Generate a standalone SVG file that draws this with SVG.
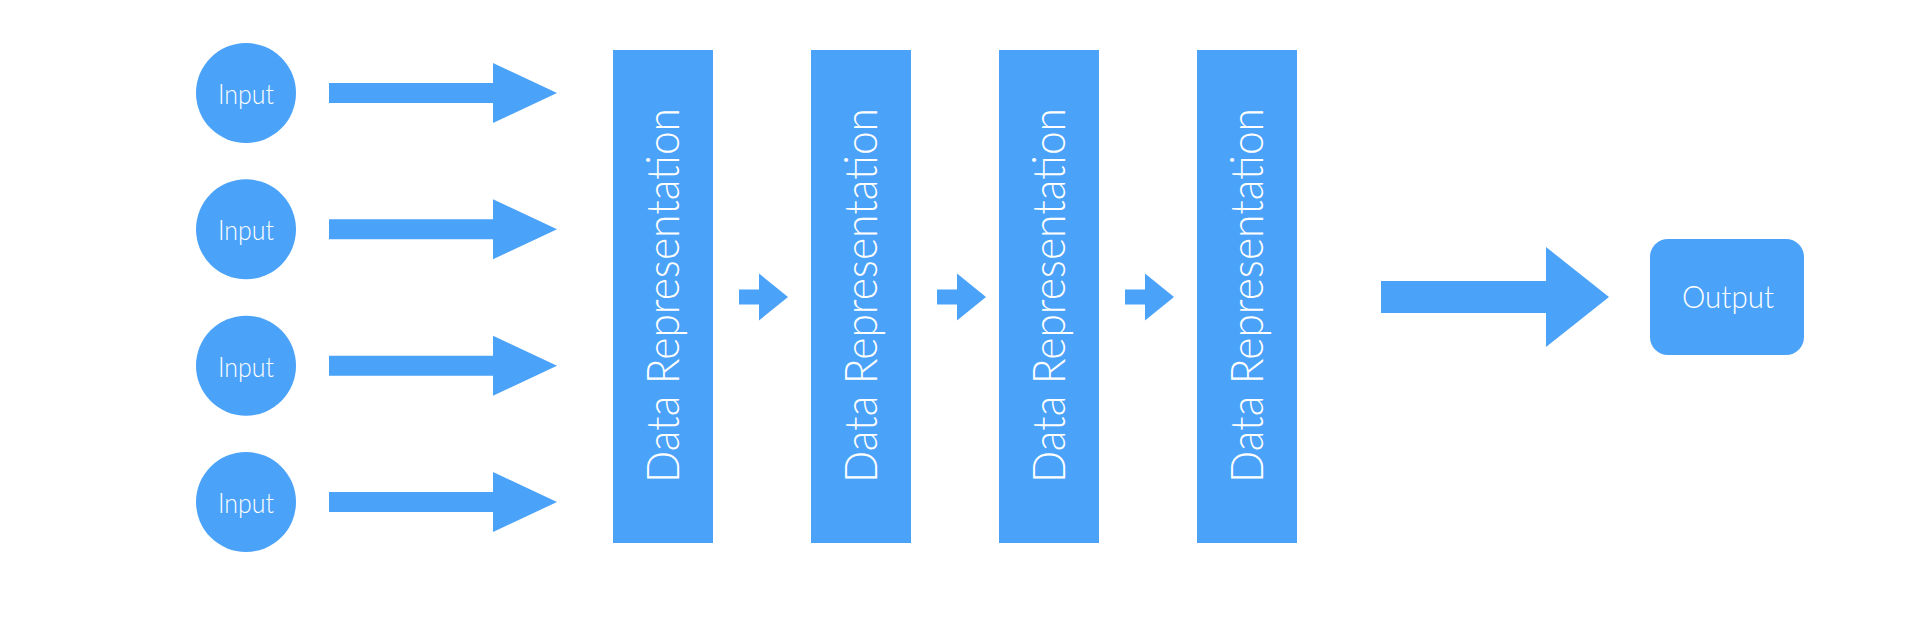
<svg xmlns="http://www.w3.org/2000/svg" width="1915" height="640" viewBox="0 0 1915 640">
<style>
.n{fill:#4aa2f9}
.t{fill:#ffffff;font-family:Lato,"Open Sans","Liberation Sans",sans-serif;font-weight:300}
.in{font-size:27px;text-anchor:middle}
.dr{font-size:45px;text-anchor:middle}
.out{font-size:31px;text-anchor:middle}
</style>
<rect width="1915" height="640" fill="#ffffff"/>
<g id="input1"><circle class="n" cx="246" cy="93" r="50"/><text class="t in" x="246" y="104" textLength="56" lengthAdjust="spacingAndGlyphs">Input</text></g>
<g id="input2"><circle class="n" cx="246" cy="229.3" r="50"/><text class="t in" x="246" y="240.3" textLength="56" lengthAdjust="spacingAndGlyphs">Input</text></g>
<g id="input3"><circle class="n" cx="246" cy="365.7" r="50"/><text class="t in" x="246" y="376.7" textLength="56" lengthAdjust="spacingAndGlyphs">Input</text></g>
<g id="input4"><circle class="n" cx="246" cy="502" r="50"/><text class="t in" x="246" y="513" textLength="56" lengthAdjust="spacingAndGlyphs">Input</text></g>
<g id="rep1"><rect class="n" x="613" y="50" width="100" height="493"/><text class="t dr" transform="translate(678.5 295.5) rotate(-90)" textLength="375" lengthAdjust="spacingAndGlyphs">Data Representation</text></g>
<g id="rep2"><rect class="n" x="811" y="50" width="100" height="493"/><text class="t dr" transform="translate(876.5 295.5) rotate(-90)" textLength="375" lengthAdjust="spacingAndGlyphs">Data Representation</text></g>
<g id="rep3"><rect class="n" x="999" y="50" width="100" height="493"/><text class="t dr" transform="translate(1064.5 295.5) rotate(-90)" textLength="375" lengthAdjust="spacingAndGlyphs">Data Representation</text></g>
<g id="rep4"><rect class="n" x="1197" y="50" width="100" height="493"/><text class="t dr" transform="translate(1262.5 295.5) rotate(-90)" textLength="375" lengthAdjust="spacingAndGlyphs">Data Representation</text></g>
<g id="output"><rect class="n" x="1650" y="239" width="154" height="116" rx="18" ry="18"/><text class="t out" x="1728" y="308" textLength="92" lengthAdjust="spacingAndGlyphs">Output</text></g>
<g id="connectors">
<polygon class="n" points="329,83 493,83 493,63 557,93 493,123 493,103 329,103"/>
<polygon class="n" points="329,219.3 493,219.3 493,199.3 557,229.3 493,259.3 493,239.3 329,239.3"/>
<polygon class="n" points="329,355.7 493,355.7 493,335.7 557,365.7 493,395.7 493,375.7 329,375.7"/>
<polygon class="n" points="329,492 493,492 493,472 557,502 493,532 493,512 329,512"/>
<polygon class="n" points="739,289.5 759,289.5 759,273.5 788,297 759,320.5 759,304.5 739,304.5"/>
<polygon class="n" points="937,289.5 957,289.5 957,273.5 986,297 957,320.5 957,304.5 937,304.5"/>
<polygon class="n" points="1125,289.5 1145,289.5 1145,273.5 1174,297 1145,320.5 1145,304.5 1125,304.5"/>
<polygon class="n" points="1381,281 1546,281 1546,247 1609,297 1546,347 1546,313 1381,313"/>
</g>
</svg>
